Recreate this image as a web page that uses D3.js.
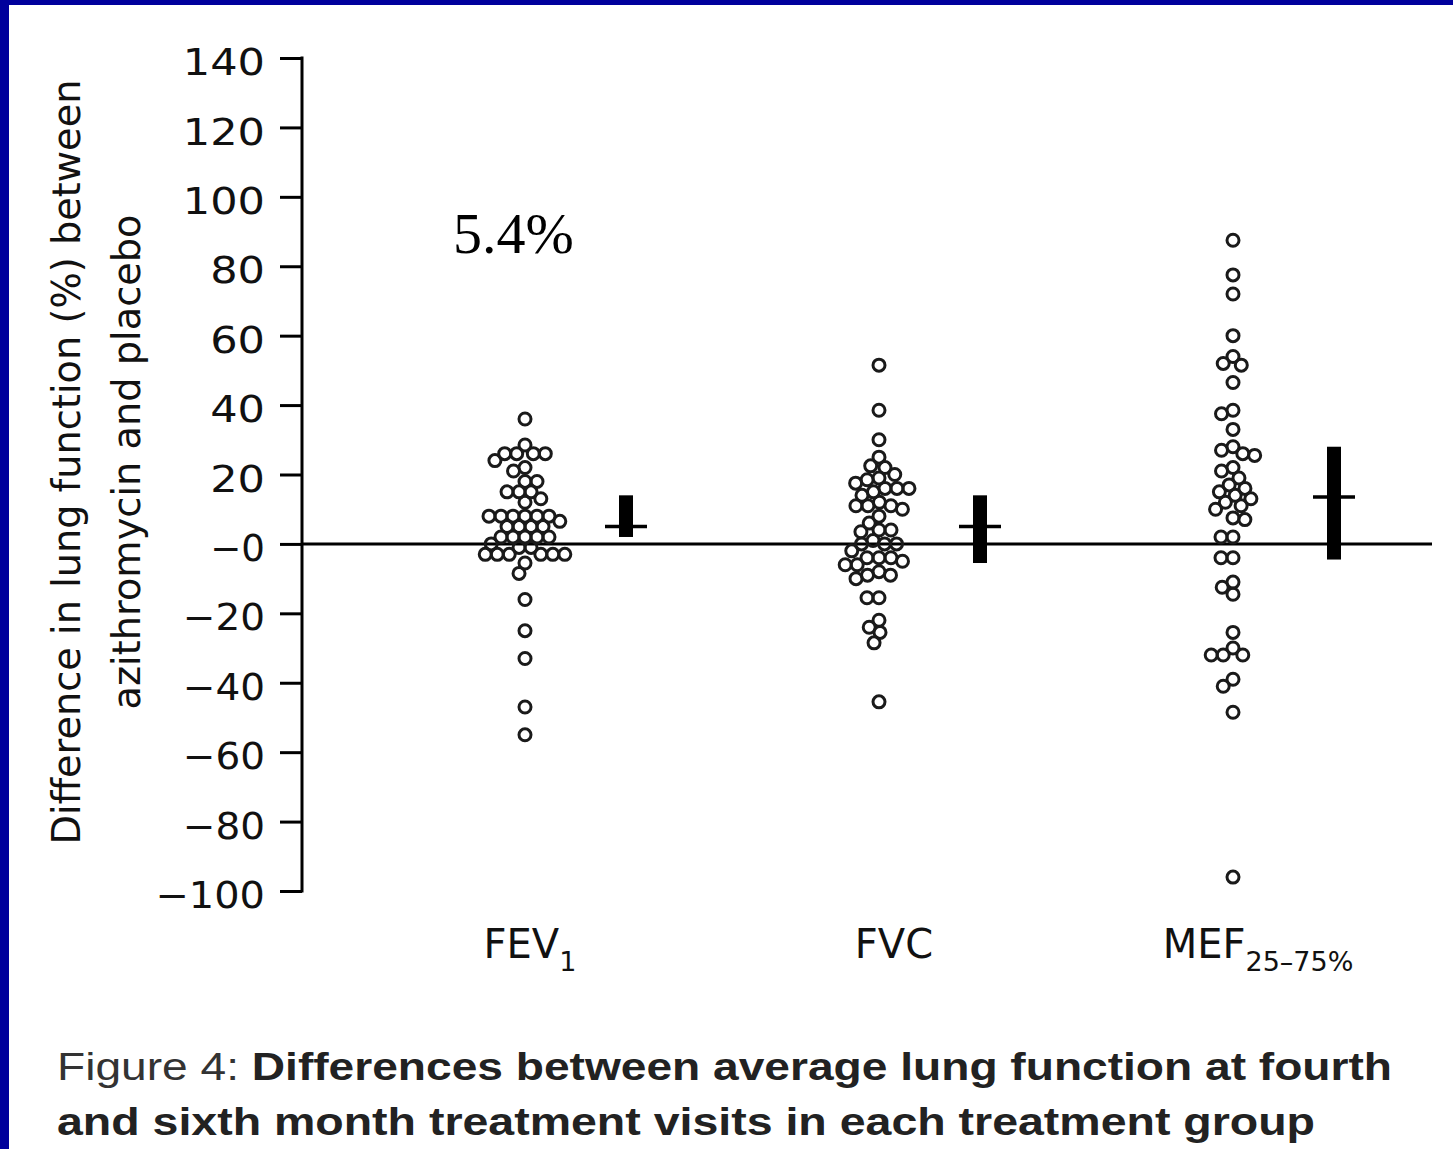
<!DOCTYPE html>
<html><head><meta charset="utf-8">
<script src="https://cdn.jsdelivr.net/npm/d3@7"></script>
<style>html,body{margin:0;padding:0;background:#fff;overflow:hidden}</style>
</head><body><svg id="c" width="1453" height="1149"></svg>
<script>
// ---- data ----
const categories = ["FEV1", "FVC", "MEF25–75%"];
const categoryMain = ["FEV", "FVC", "MEF"];
const categorySub = ["1", "", "25–75%"];

const fev1Values = [36, 28.5, 26, 26, 26, 26, 24, 22, 21, 18, 18, 15, 15, 15, 13, 12,
  8, 8, 8, 8, 8, 8, 6.5, 5, 5, 5, 5, 2, 2, 2, 2, 2, 0, -1, -1,
  -3, -3, -3, -3, -3, -3, -5.5, -8.5, -16, -25, -33, -47, -55];
const fvcValues = [51.5, 38.5, 30, 25, 22.5, 22, 20, 19, 18.5, 17.5, 16, 16, 16, 15, 14, 12,
  11, 11, 11, 10, 8, 6, 4, 4, 3.5, 1, 0, 0, 0, -2, -4, -4, -4, -5, -6, -6,
  -8, -9, -9, -10, -15.5, -15.5, -22, -24, -25.5, -28.5, -45.5];
const mefValues = [87.5, 77.5, 72, 60, 54, 52, 51.5, 46.5, 38.5, 37.5, 33, 28, 27, 26, 25.5,
  22, 21, 19, 17, 16, 15, 14, 13, 12, 11, 10, 7.5, 7, 2, 2, -4, -4,
  -11, -12.5, -14.5, -25.5, -30, -32, -32, -32, -39, -41, -48.5, -96];
const seriesValues = [fev1Values, fvcValues, mefValues];

const meanValues = [5, 5, 13.5];
const ciLow = [2, -5.5, -4.5];
const ciHigh = [14, 14, 28];

const yTickValues = [-100, -80, -60, -40, -20, 0, 20, 40, 60, 80, 100, 120, 140];
const yTickLabels = ["−100", "−80", "−60", "−40", "−20", "−0", "20", "40", "60", "80", "100", "120", "140"];
const yTitleLines = ["Difference in lung function (%) between", "azithromycin and placebo"];
const annotationText = "5.4%";
const captionLead = "Figure 4: ";
const captionLines = ["Differences between average lung function at fourth",
  "and sixth month treatment visits in each treatment group"];

// ---- drawing ----
const svg = d3.select("#c");
const W = 1453, H = 1149;
svg.append("rect").attr("width", W).attr("height", H).attr("fill", "#fff");
svg.append("rect").attr("x", 0).attr("y", 0).attr("width", W).attr("height", 5).attr("fill", "#00009c");
svg.append("rect").attr("x", 0).attr("y", 0).attr("width", 9).attr("height", H).attr("fill", "#00009c");

const y = d3.scaleLinear().domain([-100, 140]).range([891, 58]);
const x = d3.scalePoint().domain(categories).range([525, 1233]);
const axisX = 302;

// y axis
const yAxis = d3.axisLeft(y).tickValues(yTickValues).tickSize(22).tickPadding(15)
  .tickFormat((d, i) => yTickLabels[i]);
const gA = svg.append("g").attr("transform", `translate(${axisX},0)`).call(yAxis);
gA.select(".domain").remove();
gA.selectAll(".tick line").attr("stroke", "#000").attr("stroke-width", 3);
gA.selectAll(".tick text")
  .attr("font-family", "DejaVu Sans, sans-serif").attr("font-size", 37).attr("fill", "#111")
  .attr("dy", "0.45em")
  .attr("textLength", (d, i) => yTickLabels[i].length * 27.4)
  .attr("lengthAdjust", "spacingAndGlyphs");
svg.append("line").attr("x1", axisX).attr("x2", axisX)
  .attr("y1", y(140) - 1.5).attr("y2", y(-100) + 1.5)
  .attr("stroke", "#000").attr("stroke-width", 3);

// zero line
svg.append("line").attr("x1", axisX).attr("x2", 1432)
  .attr("y1", y(0)).attr("y2", y(0)).attr("stroke", "#000").attr("stroke-width", 3);

// y title
const tg = svg.append("g").attr("transform", `translate(0,462) rotate(-90)`);
tg.selectAll("text").data(yTitleLines).join("text")
  .attr("x", 0).attr("y", (d, i) => 80 + i * 60)
  .attr("text-anchor", "middle")
  .attr("font-family", "DejaVu Sans, sans-serif").attr("font-size", 39).attr("fill", "#111")
  .attr("textLength", (d, i) => [765, 495][i]).attr("lengthAdjust", "spacingAndGlyphs")
  .text(d => d);

// dodge layout for dots
const R = 6, SEP = 12;
function dodge(vals) {
  const placed = [];
  vals.forEach(v => {
    const py = y(v);
    const ivs = [];
    placed.forEach(q => {
      const dy = Math.abs(py - q.y);
      if (dy < SEP) { const w = Math.sqrt(SEP * SEP - dy * dy); ivs.push([q.x - w, q.x + w]); }
    });
    const cands = [0];
    ivs.forEach(iv => { cands.push(iv[0], iv[1]); });
    cands.sort((a, b) => Math.abs(a) - Math.abs(b) || a - b);
    let best = 0;
    for (const c of cands) {
      if (!ivs.some(iv => c > iv[0] + 1e-6 && c < iv[1] - 1e-6)) { best = c; break; }
    }
    placed.push({ v, x: best, y: py });
  });
  return placed;
}

categories.forEach((cat, i) => {
  const pts = dodge(seriesValues[i]);
  svg.append("g").selectAll("circle").data(pts).join("circle")
    .attr("cx", d => x(cat) + d.x).attr("cy", d => d.y).attr("r", R)
    .attr("fill", "none").attr("stroke", "#1a1a1a").attr("stroke-width", 3);
  const bx = x(cat) + 101;
  svg.append("rect").attr("x", bx - 7).attr("width", 14)
    .attr("y", y(ciHigh[i])).attr("height", y(ciLow[i]) - y(ciHigh[i])).attr("fill", "#000");
  svg.append("line").attr("x1", bx - 21).attr("x2", bx + 21)
    .attr("y1", y(meanValues[i])).attr("y2", y(meanValues[i]))
    .attr("stroke", "#000").attr("stroke-width", 3.5);
  const t = svg.append("text").attr("x", x(cat) + 5 + 10 * i).attr("y", 958)
    .attr("text-anchor", "middle")
    .attr("font-family", "DejaVu Sans, sans-serif").attr("font-size", 40).attr("fill", "#111");
  t.append("tspan").text(categoryMain[i]);
  if (categorySub[i]) t.append("tspan").attr("dy", 13).attr("font-size", 27).text(categorySub[i]);
});

// annotation
svg.append("text").attr("x", 453).attr("y", 253)
  .attr("font-family", "Liberation Serif, Times New Roman, serif").attr("font-size", 58).attr("fill", "#000")
  .text(annotationText);

// caption
const cap1 = svg.append("text").attr("x", 57).attr("y", 1080)
  .attr("font-family", "Liberation Sans, Arial, sans-serif").attr("font-size", 38).attr("fill", "#222")
  .attr("textLength", 1335).attr("lengthAdjust", "spacingAndGlyphs");
cap1.append("tspan").attr("fill", "#333").text(captionLead);
cap1.append("tspan").attr("font-weight", "bold").text(captionLines[0]);
svg.append("text").attr("x", 57).attr("y", 1135)
  .attr("font-family", "Liberation Sans, Arial, sans-serif").attr("font-size", 38).attr("fill", "#222")
  .attr("font-weight", "bold")
  .attr("textLength", 1258).attr("lengthAdjust", "spacingAndGlyphs")
  .text(captionLines[1]);
</script>
</body></html>
